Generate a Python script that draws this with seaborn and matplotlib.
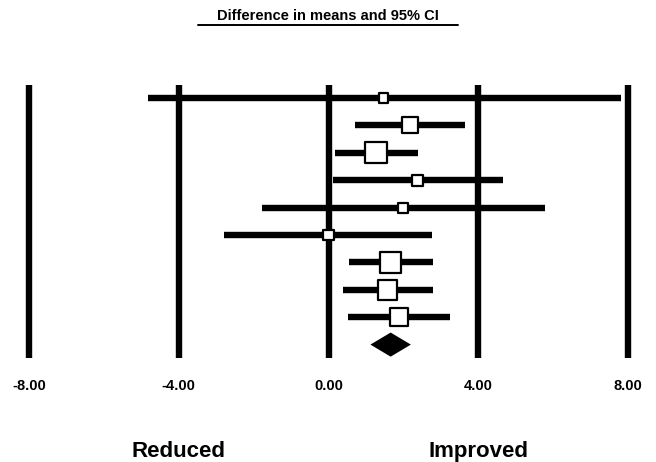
import matplotlib
matplotlib.use("Agg")
import matplotlib.pyplot as plt
from matplotlib.lines import Line2D
from matplotlib.transforms import blended_transform_factory
import seaborn as sns
import pandas as pd
import numpy as np

# ---- data ----
study_rows = [0, 1, 2, 3, 4, 5, 6, 7, 8]
estimates = [1.47, 2.17, 1.27, 2.38, 1.98, -0.01, 1.66, 1.58, 1.88]
lower_ci = [-4.83, 0.72, 0.17, 0.11, -1.78, -2.78, 0.54, 0.38, 0.53]
upper_ci = [7.80, 3.64, 2.39, 4.66, 5.77, 2.76, 2.80, 2.80, 3.25]
weights = [4.2, 11.1, 19.6, 5.3, 4.2, 5.1, 20.2, 16.4, 13.8]
summary_row = 9
summary_est = 1.66
summary_lo = 1.12
summary_hi = 2.20
tick_values = [-8, -4, 0, 4, 8]
tick_labels = ["-8.00", "-4.00", "0.00", "4.00", "8.00"]
title_text = "Difference in means and 95% CI"
left_label = "Reduced"
right_label = "Improved"
left_label_x = -4
right_label_x = 4

df = pd.DataFrame({"row": study_rows, "est": estimates, "lo": lower_ci,
                   "hi": upper_ci, "w": weights})

sns.set_style("white")
plt.rcParams["font.family"] = ["Liberation Sans", "DejaVu Sans"]
plt.rcParams["text.color"] = "black"
plt.rcParams["xtick.color"] = "black"
plt.rcParams["xtick.labelcolor"] = "black"

W, H = 656, 462
fig = plt.figure(figsize=(W / 100, H / 100), dpi=100)
ppu = (628 - 29) / 16.0
ax = fig.add_axes([10 / W, 1 - 358 / H, 636 / W, (358 - 85) / H])
ax.set_xlim(-8 - 19 / ppu, 8 + 18 / ppu)
row_px = 27.4
ax.set_ylim((358 - 98) / row_px, (85 - 98) / row_px)

lw = 4.6
for t in tick_values:
    ax.axvline(t, color="black", lw=lw, solid_capstyle="butt", zorder=1)

ax.hlines(df["row"], df["lo"], df["hi"], color="black", lw=lw,
          capstyle="butt", zorder=2)

k2 = 12.0
sns.scatterplot(data=df, x="est", y="row", size="w",
                sizes=(k2 * min(weights), k2 * max(weights)),
                size_norm=(min(weights), max(weights)),
                marker="s", color="white", edgecolor="black", linewidth=1.6,
                legend=False, ax=ax, zorder=3)

dh = 0.44
ax.fill([summary_lo, summary_est, summary_hi, summary_est],
        [summary_row, summary_row - dh, summary_row, summary_row + dh],
        color="black", zorder=3, lw=0)

ax.set_xlabel("")
ax.set_ylabel("")
ax.set_yticks([])
ax.set_xticks(tick_values, tick_labels, fontsize=10.5, fontweight="bold",
              color="black")
ax.tick_params(axis="x", length=0, pad=15)
for s in ax.spines.values():
    s.set_visible(False)

tr = blended_transform_factory(ax.transData, fig.transFigure)
ax.text(left_label_x, 1 - 457 / H, left_label, transform=tr, ha="center",
        va="baseline", fontsize=16, fontweight="bold", color="black")
ax.text(right_label_x, 1 - 457 / H, right_label, transform=tr, ha="center",
        va="baseline", fontsize=16, fontweight="bold", color="black")

fig.text(328 / W, 1 - 20 / H, title_text, ha="center", va="baseline",
         fontsize=10.5, fontweight="bold", color="black")
fig.add_artist(Line2D([198 / W, 458 / W], [1 - 25 / H, 1 - 25 / H],
                      transform=fig.transFigure, color="black", lw=1.4))

fig.savefig("out.png", dpi=100)
